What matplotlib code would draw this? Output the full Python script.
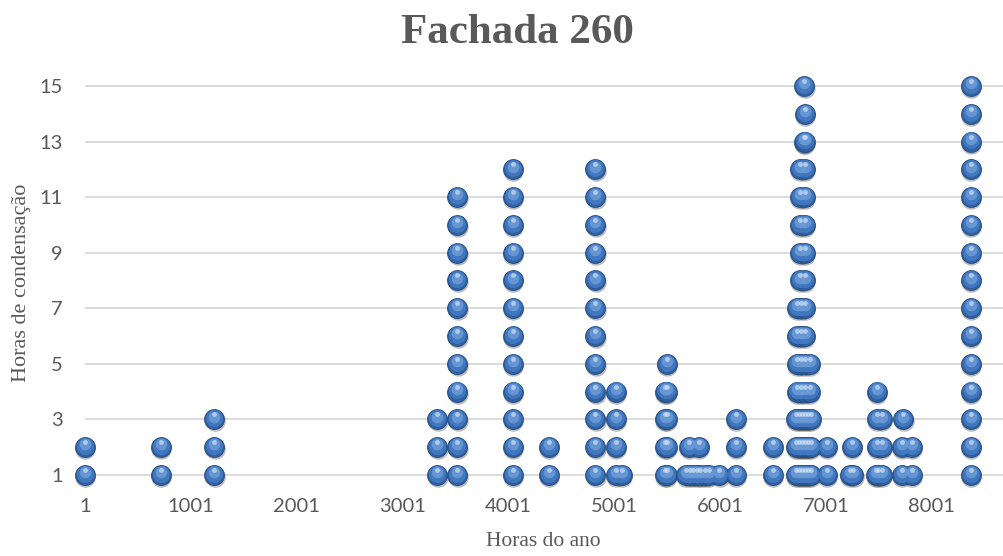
# Scatter chart: condensation hours over the year (Fachada 260)
import matplotlib
matplotlib.use("Agg")
import matplotlib.pyplot as plt
from matplotlib.transforms import offset_copy

# Data: (hour of year, hours of condensation)
horas_ano = [
    1, 1,
    719, 719,
    1220, 1220, 1220,
    3327, 3327, 3327,
    3516, 3516, 3516, 3516, 3516, 3516, 3516, 3516, 3516, 3516, 3516,
    4045, 4045, 4045, 4045, 4045, 4045, 4045, 4045, 4045, 4045, 4045, 4045,
    4385, 4385,
    4820, 4820, 4820, 4820, 4820, 4820, 4820, 4820, 4820, 4820, 4820, 4820,
    5015, 5015, 5015, 5015, 5071,
    5480, 5480, 5480, 5480,
    5497, 5497, 5497, 5497, 5497,
    5677, 5714, 5746, 5784, 5815, 5856, 5897, 5994,
    5708, 5802,
    6149, 6149, 6149,
    6501, 6501,
    6719, 6747, 6775, 6803, 6832, 6860,
    6719, 6747, 6775, 6803, 6832, 6860,
    6719, 6747, 6775, 6803, 6832, 6860,
    6728, 6765, 6803, 6850,
    6728, 6765, 6803, 6850,
    6728, 6765, 6803,
    6728, 6765, 6803,
    6756, 6803, 6756, 6803, 6756, 6803, 6756, 6803, 6756, 6803,
    6790, 6803, 6800, 6796,
    7009, 7009,
    7229, 7260, 7248,
    7472, 7490, 7528, 7481, 7528, 7481, 7528, 7481,
    7716, 7716, 7732,
    7811, 7811,
    8369, 8369, 8369, 8369, 8369, 8369, 8369, 8369, 8369, 8369, 8369, 8369, 8369, 8369, 8369,
]
horas_condensacao = [
    1, 2,
    1, 2,
    1, 2, 3,
    1, 2, 3,
    1, 2, 3, 4, 5, 6, 7, 8, 9, 10, 11,
    1, 2, 3, 4, 5, 6, 7, 8, 9, 10, 11, 12,
    1, 2,
    1, 2, 3, 4, 5, 6, 7, 8, 9, 10, 11, 12,
    1, 2, 3, 4, 1,
    1, 2, 3, 4,
    1, 2, 3, 4, 5,
    1, 1, 1, 1, 1, 1, 1, 1,
    2, 2,
    1, 2, 3,
    1, 2,
    1, 1, 1, 1, 1, 1,
    2, 2, 2, 2, 2, 2,
    3, 3, 3, 3, 3, 3,
    4, 4, 4, 4,
    5, 5, 5, 5,
    6, 6, 6,
    7, 7, 7,
    8, 8, 9, 9, 10, 10, 11, 11, 12, 12,
    13, 13, 14, 15,
    1, 2,
    1, 1, 2,
    1, 1, 1, 2, 2, 3, 3, 4,
    1, 2, 3,
    1, 2,
    1, 2, 3, 4, 5, 6, 7, 8, 9, 10, 11, 12, 13, 14, 15,
]
x_ticks = [1, 1001, 2001, 3001, 4001, 5001, 6001, 7001, 8001]
y_ticks = [1, 3, 5, 7, 9, 11, 13, 15]

GRAY = "#595959"
W, H = 1004, 556
fig = plt.figure(figsize=(W / 100, H / 100), dpi=100)

# axes placed in pixel terms of the reference
left, right, top, bottom = 85, 1003, 70, 494
ax = fig.add_axes([left / W, 1 - bottom / H, (right - left) / W, (bottom - top) / H])
ax.set_xlim(1, 8675)
ax.set_ylim(0.316, 15.576)

for s in ax.spines.values():
    s.set_visible(False)
ax.set_xticks(x_ticks)
ax.set_yticks(y_ticks)
ax.tick_params(length=0, colors=GRAY, labelsize=14.5)
ax.tick_params(axis="y", pad=16)
ax.tick_params(axis="x", pad=3)
for lab in ax.get_xticklabels() + ax.get_yticklabels():
    lab.set_fontfamily("Lato")
ax.yaxis.grid(True, color="#d9d9d9", linewidth=1.3)
ax.set_axisbelow(True)

# sphere-like markers: shadow, body, lighter top, small highlight
shadow_tr = offset_copy(ax.transData, fig=fig, x=0.5, y=-2.0, units="dots")
ax.scatter(horas_ano, horas_condensacao, s=215, color="#1a1a1a", alpha=0.3,
           linewidths=0, transform=shadow_tr, clip_on=False, zorder=3)
ax.scatter(horas_ano, horas_condensacao, s=205, color="#2f5f9e",
           edgecolors="#264d82", linewidths=0.6, clip_on=False, zorder=4)
mid_tr = offset_copy(ax.transData, fig=fig, x=0.0, y=1.2, units="dots")
ax.scatter(horas_ano, horas_condensacao, s=150, color="#4177bf",
           linewidths=0, transform=mid_tr, clip_on=False, zorder=5)
light_tr = offset_copy(ax.transData, fig=fig, x=0.0, y=2.8, units="dots")
ax.scatter(horas_ano, horas_condensacao, s=70, color="#6a9ad6", alpha=0.9,
           linewidths=0, transform=light_tr, clip_on=False, zorder=6)
hl_tr = offset_copy(ax.transData, fig=fig, x=0.0, y=5.0, units="dots")
ax.scatter(horas_ano, horas_condensacao, s=12, color="#cfe0f5", alpha=0.7,
           linewidths=0, transform=hl_tr, clip_on=False, zorder=7)

fig.text(517 / W, 1 - 33 / H, "Fachada 260", ha="center", va="center",
         fontsize=31, fontweight="bold", color=GRAY, family="Liberation Serif")
fig.text(543 / W, 1 - 541 / H, "Horas do ano", ha="center", va="center",
         fontsize=15.5, color=GRAY, family="Liberation Serif")
fig.text(22 / W, 1 - 283 / H, "Horas de condensação", ha="center", va="center",
         rotation=90, fontsize=16, color=GRAY, family="Liberation Serif")

fig.savefig("out.png", dpi=100)
